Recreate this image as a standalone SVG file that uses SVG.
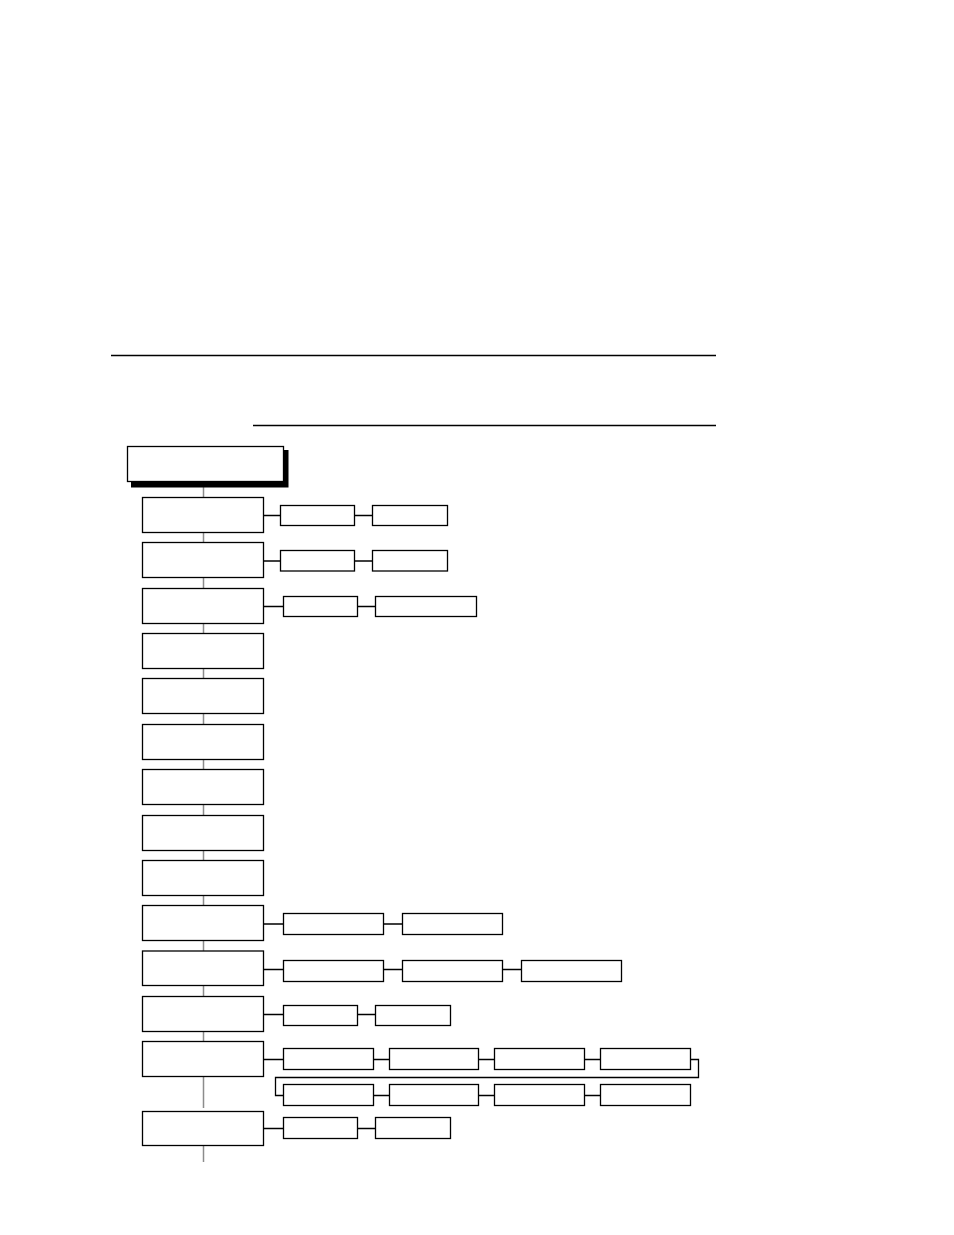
<svg xmlns="http://www.w3.org/2000/svg" width="954" height="1235" viewBox="0 0 954 1235">
<style>
.b{fill:#fff;stroke:#000;stroke-width:1.3}
.c{fill:#fff;stroke:#000;stroke-width:1.3}
.l{fill:none;stroke:#000;stroke-width:1.3}
.s{fill:none;stroke:#8c8c8c;stroke-width:1.5}
.r{stroke:#000;stroke-width:1.3}
</style>
<rect width="954" height="1235" fill="#fff"/>
<line class="r" x1="111" y1="355.5" x2="716" y2="355.5"/>
<line class="r" x1="253" y1="425.5" x2="716" y2="425.5"/>
<g id="connectors">
<line class="s" x1="203.5" y1="482" x2="203.5" y2="1108"/>
<line class="s" x1="203.5" y1="1146" x2="203.5" y2="1162"/>
<path class="l" d="M263.5 515.5H280.5M354.5 515.5H372.5"/>
<path class="l" d="M263.5 561H280.5M354.5 561H372.5"/>
<path class="l" d="M263.5 606.5H283.5M357.5 606.5H375.5"/>
<path class="l" d="M263.5 924H283.5M383.5 924H402.5"/>
<path class="l" d="M263.5 969.5H283.5M383.5 969.5H402.5M502.5 969.5H521.5"/>
<path class="l" d="M263.5 1014.5H283.5M357.5 1014.5H375.5"/>
<path class="l" d="M263.5 1059.5H283.5M373.5 1059.5H389.5M478.5 1059.5H494.5M584.5 1059.5H600.5"/>
<path class="l" d="M690.5 1059.5H698.5V1077.5H275.5V1095.5H283.5"/>
<path class="l" d="M373.5 1095.5H389.5M478.5 1095.5H494.5M584.5 1095.5H600.5"/>
<path class="l" d="M263.5 1128.5H283.5M357.5 1128.5H375.5"/>
</g>
<g id="root">
<rect x="131" y="450" width="157.5" height="37.5" fill="#000"/>
<rect class="b" x="127.5" y="446.5" width="156" height="35"/>
</g>
<g id="n1"><rect class="b" x="142.5" y="497.5" width="121" height="35"/>
<rect class="c" x="280.5" y="505.5" width="74" height="20"/><rect class="c" x="372.5" y="505.5" width="75" height="20"/></g>
<g id="n2"><rect class="b" x="142.5" y="542.5" width="121" height="35"/>
<rect class="c" x="280.5" y="550.5" width="74" height="20.5"/><rect class="c" x="372.5" y="550.5" width="75" height="20.5"/></g>
<g id="n3"><rect class="b" x="142.5" y="588.5" width="121" height="35"/>
<rect class="c" x="283.5" y="596.5" width="74" height="20"/><rect class="c" x="375.5" y="596.5" width="101" height="20"/></g>
<g id="n4"><rect class="b" x="142.5" y="633.5" width="121" height="35"/></g>
<g id="n5"><rect class="b" x="142.5" y="678.5" width="121" height="35"/></g>
<g id="n6"><rect class="b" x="142.5" y="724.5" width="121" height="35"/></g>
<g id="n7"><rect class="b" x="142.5" y="769.5" width="121" height="35"/></g>
<g id="n8"><rect class="b" x="142.5" y="815.5" width="121" height="35"/></g>
<g id="n9"><rect class="b" x="142.5" y="860.5" width="121" height="35"/></g>
<g id="n10"><rect class="b" x="142.5" y="905.5" width="121" height="35"/>
<rect class="c" x="283.5" y="913.5" width="100" height="21"/><rect class="c" x="402.5" y="913.5" width="100" height="21"/></g>
<g id="n11"><rect class="b" x="142.5" y="951" width="121" height="34.5"/>
<rect class="c" x="283.5" y="960.5" width="100" height="21"/><rect class="c" x="402.5" y="960.5" width="100" height="21"/><rect class="c" x="521.5" y="960.5" width="100" height="21"/></g>
<g id="n12"><rect class="b" x="142.5" y="996.5" width="121" height="35"/>
<rect class="c" x="283.5" y="1005.5" width="74" height="20"/><rect class="c" x="375.5" y="1005.5" width="75" height="20"/></g>
<g id="n13"><rect class="b" x="142.5" y="1041.5" width="121" height="35"/>
<rect class="c" x="283.5" y="1048.5" width="90" height="21"/><rect class="c" x="389.5" y="1048.5" width="89" height="21"/><rect class="c" x="494.5" y="1048.5" width="90" height="21"/><rect class="c" x="600.5" y="1048.5" width="90" height="21"/>
<rect class="c" x="283.5" y="1084.5" width="90" height="21"/><rect class="c" x="389.5" y="1084.5" width="89" height="21"/><rect class="c" x="494.5" y="1084.5" width="90" height="21"/><rect class="c" x="600.5" y="1084.5" width="90" height="21"/></g>
<g id="n14"><rect class="b" x="142.5" y="1111.5" width="121" height="34"/>
<rect class="c" x="283.5" y="1117.5" width="74" height="21"/><rect class="c" x="375.5" y="1117.5" width="75" height="21"/></g>
</svg>
